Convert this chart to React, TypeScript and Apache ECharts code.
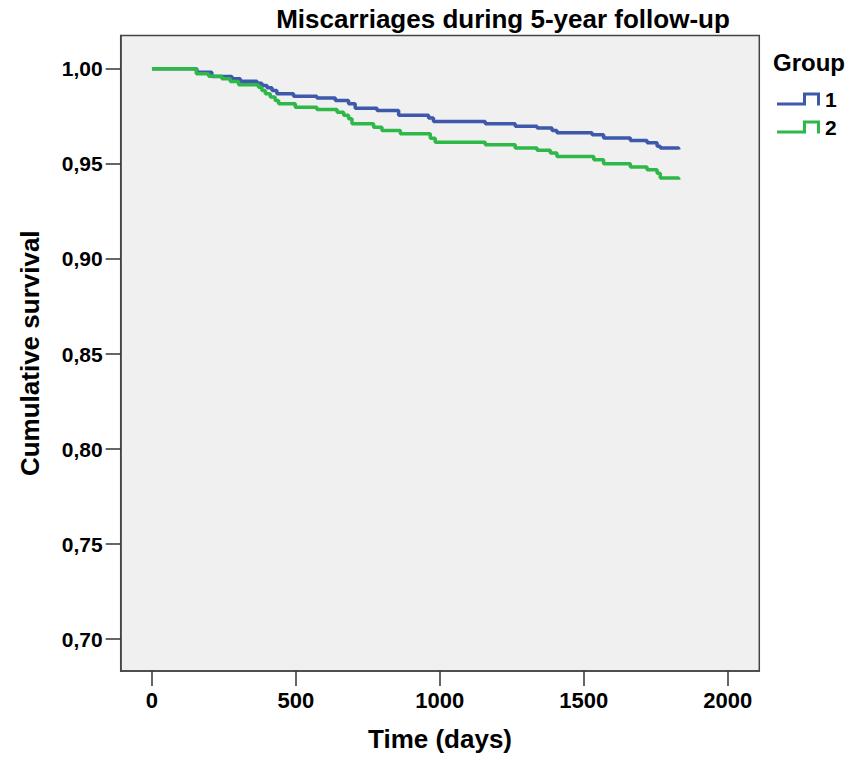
import React, { useEffect, useRef } from "react";
import * as echarts from "echarts";

const titleText = "Miscarriages during 5-year follow-up";
const groupNames = ["1", "2"];
const groupColors = ["#3E58AC", "#2EB848"];

const days1 = [0, 156, 208, 278, 307, 365, 382, 400, 417, 434, 492, 573, 637, 683, 706, 782, 857, 961, 978, 1158, 1262, 1338, 1390, 1407, 1529, 1569, 1662, 1720, 1755, 1766, 1830];
const surv1 = [1, 0.9982, 0.996, 0.9947, 0.9935, 0.9924, 0.9912, 0.99, 0.9886, 0.9869, 0.9856, 0.9846, 0.9833, 0.9816, 0.9793, 0.9781, 0.9755, 0.9741, 0.9723, 0.9711, 0.9698, 0.9688, 0.9676, 0.9664, 0.9653, 0.9636, 0.9623, 0.9611, 0.9593, 0.9583, 0.9576];

const days2 = [0, 154, 197, 243, 272, 301, 370, 382, 394, 411, 428, 440, 498, 573, 643, 666, 683, 695, 770, 799, 863, 967, 984, 1158, 1262, 1338, 1384, 1407, 1535, 1569, 1662, 1720, 1755, 1766, 1830];
const surv2 = [1, 0.9974, 0.9961, 0.9947, 0.9933, 0.9916, 0.9903, 0.9886, 0.9869, 0.9851, 0.9833, 0.9816, 0.9798, 0.9786, 0.9772, 0.9755, 0.9737, 0.9711, 0.9693, 0.9676, 0.9658, 0.9635, 0.9614, 0.9601, 0.9583, 0.9571, 0.9557, 0.9539, 0.9522, 0.9501, 0.9483, 0.9469, 0.9451, 0.9425, 0.9417];

const xTicks = [0, 500, 1000, 1500, 2000];
const yTicks = [0.7, 0.75, 0.8, 0.85, 0.9, 0.95, 1.0];

const FONT = 'Arial, "Liberation Sans", sans-serif';
const stepIcon = "path://M0,10 L26,10 L26,0 L43,0 L43,13 L40,13 L40,3 L29,3 L29,13 L0,13 Z";

export default function App() {
  const ref = useRef<HTMLDivElement>(null);
  useEffect(() => {
    if (!ref.current) return;
    const chart = echarts.init(ref.current, null, { renderer: "svg" });
    const mk = (d: number[], s: number[]) => d.map((x, i) => [x, s[i]]);
    chart.setOption({
      animation: false,
      backgroundColor: "#ffffff",
      grid: {
        left: 120.7,
        right: 91.7,
        top: 35.5,
        bottom: 88,
        show: true,
        backgroundColor: "#F0F0F0",
        borderColor: "#444",
        borderWidth: 1.5,
      },
      graphic: [
        {
          type: "text",
          x: 503,
          y: 6,
          style: {
            text: titleText,
            textAlign: "center",
            textVerticalAlign: "top",
            font: `bold 26px ${FONT}`,
            fill: "#000",
          },
        },
        {
          type: "text",
          x: 773,
          y: 50,
          style: {
            text: "Group",
            textAlign: "left",
            textVerticalAlign: "top",
            font: `bold 24px ${FONT}`,
            fill: "#000",
          },
        },
      ],
      legend: {
        orient: "vertical",
        left: 777,
        top: 88,
        padding: 0,
        itemWidth: 43,
        itemHeight: 13,
        itemGap: 6,
        icon: stepIcon,
        data: groupNames,
        textStyle: { fontFamily: FONT, fontWeight: "bold", fontSize: 21, color: "#000", lineHeight: 22 },
      },
      xAxis: {
        type: "value",
        min: -108.6,
        max: 2110,
        name: "Time (days)",
        nameLocation: "middle",
        nameGap: 55,
        nameTextStyle: { fontFamily: FONT, fontWeight: "bold", fontSize: 26, color: "#000" },
        axisLine: { show: true, onZero: false, lineStyle: { color: "#444", width: 1.5 } },
        axisTick: { show: true, length: 15, lineStyle: { color: "#333", width: 1.5 }, customValues: xTicks },
        axisLabel: {
          customValues: xTicks,
          margin: 18,
          fontFamily: FONT,
          fontWeight: "bold",
          fontSize: 22,
          color: "#000",
          formatter: (v: number) => String(v),
        },
        splitLine: { show: false },
      },
      yAxis: {
        type: "value",
        min: 0.6833,
        max: 1.0175,
        name: "Cumulative survival",
        nameLocation: "middle",
        nameGap: 78,
        nameTextStyle: { fontFamily: FONT, fontWeight: "bold", fontSize: 26, color: "#000" },
        axisLine: { show: true, onZero: false, lineStyle: { color: "#444", width: 1.5 } },
        axisTick: { show: true, length: 15, lineStyle: { color: "#333", width: 1.5 }, customValues: yTicks },
        axisLabel: {
          customValues: yTicks,
          margin: 18,
          fontFamily: FONT,
          fontWeight: "bold",
          fontSize: 21,
          color: "#000",
          formatter: (v: number) => v.toFixed(2).replace(".", ","),
        },
        splitLine: { show: false },
      },
      series: [
        {
          name: groupNames[0],
          type: "line",
          step: "end",
          showSymbol: false,
          color: groupColors[0],
          lineStyle: { width: 3.5, color: groupColors[0] },
          data: mk(days1, surv1),
        },
        {
          name: groupNames[1],
          type: "line",
          step: "end",
          showSymbol: false,
          color: groupColors[1],
          lineStyle: { width: 3.5, color: groupColors[1] },
          data: mk(days2, surv2),
        },
      ],
    });
    return () => chart.dispose();
  }, []);
  return <div ref={ref} style={{ position: "fixed", left: 0, top: 0, width: 851, height: 759 }} />;
}
